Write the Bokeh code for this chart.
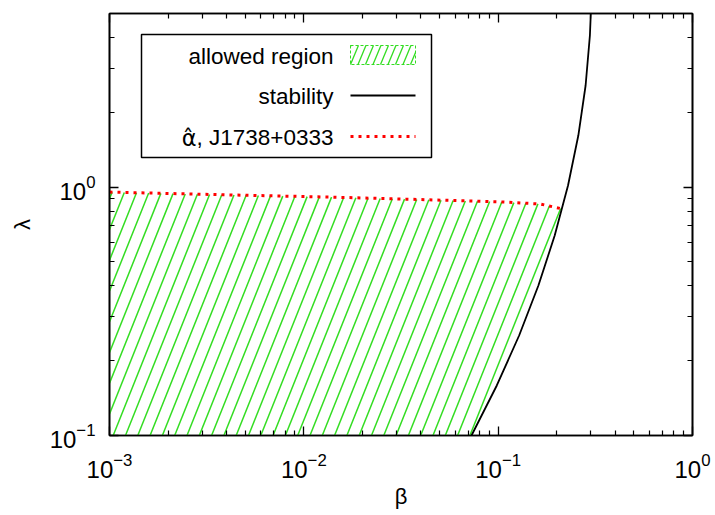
import numpy as np
from bokeh.plotting import figure
from bokeh.models import Range1d, LogAxis, FixedTicker, Label, LogTickFormatter
from bokeh.embed import file_html
from bokeh.resources import INLINE

# ---- data -------------------------------------------------------------
# stability boundary: lambda as a function of beta
stab_beta = [0.0729, 0.0984, 0.1282, 0.1611, 0.1954, 0.2288, 0.2585, 0.2818, 0.2965, 0.2997, 0.3012]
stab_lam = [0.100, 0.159, 0.2527, 0.4016, 0.6386, 1.015, 1.613, 2.565, 4.077, 5.0, 5.9]

# upper bound on lambda from the alpha-hat limit of J1738+0333
alpha_beta = [0.001, 0.00372, 0.0142, 0.0465, 0.1028, 0.165, 0.212]
alpha_lam = [0.955, 0.932, 0.911, 0.888, 0.872, 0.855, 0.818]

x_decades = [-3, -2, -1, 0]
y_decades = [-1, 0]
x_lim = (1e-3, 1.0)
y_lim = (0.1, 5.0)

legend_labels = ["allowed region", "stability", "\u03b1\u0302", ", J1738+0333"]

# ---- layout -----------------------------------------------------------
W, H = 715, 515
FL, FR, FT, FB = 109, 23, 13, 80           # borders around the frame
FW, FH = W - FL - FR, H - FT - FB
SX = FW / np.log10(x_lim[1] / x_lim[0])     # px per decade
SY = FH / np.log10(y_lim[1] / y_lim[0])

FONT = "Liberation Sans"
GREEN = "#33dd22"


def bx(px):
    """frame-relative pixel column -> beta"""
    return float(10 ** (np.log10(x_lim[0]) + px / SX))


def ly(py):
    """frame-relative pixel row (from top) -> lambda"""
    return float(10 ** (np.log10(y_lim[0]) + (FH - py) / SY))


p = figure(width=W, height=H, x_axis_type="log", y_axis_type="log",
           x_range=Range1d(*x_lim), y_range=Range1d(*y_lim),
           min_border_left=FL, min_border_right=FR,
           min_border_top=FT, min_border_bottom=FB,
           toolbar_location=None, output_backend="svg")
p.xgrid.visible = False
p.ygrid.visible = False
p.outline_line_color = "black"
p.outline_line_width = 1.6
p.background_fill_color = "white"
p.border_fill_color = "white"

# ticks on all four sides, pointing inwards
x_major = [10.0 ** d for d in x_decades]
x_minor = [k * 10.0 ** d for d in x_decades[:-1] for k in range(2, 10)]
y_major = [10.0 ** d for d in y_decades]
y_minor = [k * 10.0 ** d for d in y_decades for k in range(2, 10) if k * 10.0 ** d <= y_lim[1]]

p.add_layout(LogAxis(), "above")
p.add_layout(LogAxis(), "right")
for ax in p.xaxis:
    ax.ticker = FixedTicker(ticks=x_major, minor_ticks=x_minor)
for ax in p.yaxis:
    ax.ticker = FixedTicker(ticks=y_major, minor_ticks=y_minor)
for ax in p.xaxis + p.yaxis:
    ax.formatter = LogTickFormatter()
    ax.major_tick_in = 9
    ax.major_tick_out = 0
    ax.minor_tick_in = 5
    ax.minor_tick_out = 0
    ax.major_tick_line_width = 1.3
    ax.minor_tick_line_width = 1.2
    ax.axis_line_width = 1.6
    ax.major_label_text_font = FONT
    ax.major_label_text_color = "black"
    ax.axis_label_text_font = FONT
    ax.axis_label_text_font_style = "normal"
    ax.axis_label_text_color = "black"
    ax.axis_label_text_font_size = "22px"

# mirrored axes carry ticks only
for ax in (p.above[0], p.right[0]):
    ax.major_label_text_font_size = "1px"
    ax.major_label_text_alpha = 0
    ax.major_label_standoff = 0

xa, ya = p.below[0], p.left[0]
xa.major_label_text_font_size = "24px"
ya.major_label_text_font_size = "24px"
xa.major_label_standoff = 17
ya.major_label_standoff = 14
xa.axis_label = "\u03b2"
ya.axis_label = "\u03bb"
xa.axis_label_standoff = 3
ya.axis_label_standoff = 12

# ---- hatched allowed region ------------------------------------------
lu_a, lv_a = np.log10(alpha_beta), np.log10(alpha_lam)
lu_s, lv_s = np.log10(stab_beta), np.log10(stab_lam)


def in_region(u, v):
    top = np.interp(u, lu_a, lv_a, right=-np.inf)
    edge = np.interp(v, lv_s, lu_s)
    return (u >= np.log10(x_lim[0])) & (v >= np.log10(y_lim[0])) & (v <= top) & (u <= edge)


def hatch(inside, u_lo, u_hi, v_lo, v_hi, slope_px, step_px, phase=0.0, n=4000):
    k = slope_px * SX / SY          # dv/du of a hatch line
    du = step_px / SX
    v = np.linspace(v_lo, v_hi, n)
    xs, ys = [], []
    c = u_lo - (v_hi - v_lo) / k
    c = u_lo + (np.floor((c - u_lo) / du) + phase) * du
    while c <= u_hi:
        u = c + (v - v_lo) / k
        idx = np.flatnonzero(inside(u, v))
        if idx.size > 1:
            br = np.flatnonzero(np.diff(idx) > 1)
            starts = np.r_[idx[0], idx[br + 1]]
            ends = np.r_[idx[br], idx[-1]]
            for s, e in zip(starts, ends):
                if e > s:
                    xs.append([float(t) for t in 10 ** u[[s, e]]])
                    ys.append([float(t) for t in 10 ** v[[s, e]]])
        c += du
    return xs, ys


hx, hy = hatch(in_region, np.log10(x_lim[0]), max(lu_s), np.log10(y_lim[0]), max(lv_a),
               slope_px=2.5, step_px=12.3, phase=0.3)
p.multi_line(hx, hy, line_color=GREEN, line_width=1.5)

# ---- curves -----------------------------------------------------------
p.line(alpha_beta, alpha_lam, line_color="#ff0000", line_width=3, line_dash="3 5")
p.line(stab_beta, stab_lam, line_color="black", line_width=1.8)

# ---- key --------------------------------------------------------------
kx0, kx1, ky0, ky1 = 32, 322, 21, 144
p.quad(left=[bx(kx0)], right=[bx(kx1)], top=[ly(ky0)], bottom=[ly(ky1)],
       fill_color="white", line_color="black", line_width=1.5)

KEY_SIZE = 22.5
text_x = 224
rows = [43, 83, 124]


def key_text(txt, px, py, font=FONT):
    p.add_layout(Label(x=bx(px), y=ly(py), text=txt, text_align="right",
                       text_baseline="alphabetic", text_font=font,
                       text_font_size=f"{KEY_SIZE}px", text_color="black"))


key_text(legend_labels[0], text_x, rows[0])
key_text(legend_labels[1], text_x, rows[1])
# alpha with its hat set in a font that stacks the accent over the letter
tail_w = (0.278 + 0.278 + 0.5 + 8 * 0.556 + 0.584) * KEY_SIZE
key_text(legend_labels[3], text_x, rows[2])
key_text(legend_labels[2], text_x - tail_w, rows[2], font="DejaVu Sans")

sx0, sx1 = 241, 306
# hatched swatch
bu0, bu1 = np.log10(bx(sx0)), np.log10(bx(sx1))
bv1, bv0 = np.log10(ly(32)), np.log10(ly(51))


def in_swatch(u, v):
    return (u >= bu0) & (u <= bu1) & (v >= bv0) & (v <= bv1)


sxs, sys_ = hatch(in_swatch, bu0, bu1, bv0, bv1, slope_px=2.4, step_px=7.5, n=600)
p.multi_line(sxs, sys_, line_color=GREEN, line_width=1.3)
p.quad(left=[bx(sx0)], right=[bx(sx1)], top=[ly(32)], bottom=[ly(51)],
       fill_color=None, line_color=GREEN, line_width=1, line_dash="3 2")

p.line([bx(sx0), bx(sx1)], [ly(82)] * 2, line_color="black", line_width=1.8)
p.line([bx(sx0), bx(sx1)], [ly(123)] * 2, line_color="#ff0000",
       line_width=3, line_dash="3 5")

open("out.html", "w").write(file_html(p, INLINE))
